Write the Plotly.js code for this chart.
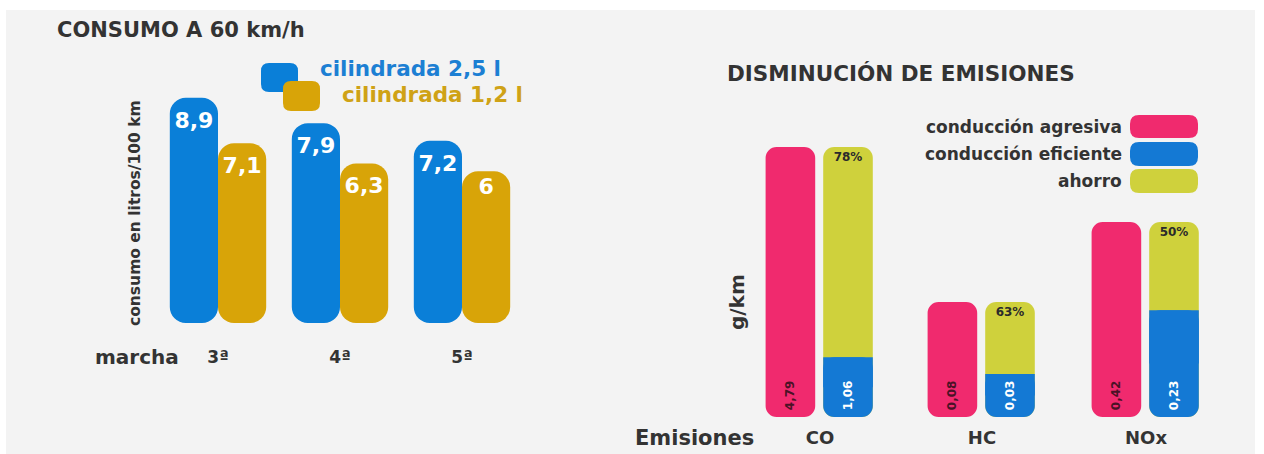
<!DOCTYPE html>
<html>
<head>
<meta charset="utf-8">
<script src="https://cdn.plot.ly/plotly-3.0.1.min.js"></script>
<style>html,body{margin:0;padding:0;background:#fff;}#chart{width:1264px;height:454px;}</style>
</head>
<body>
<div id="chart"></div>
<script>
// ---- data ----
const marchas = ['3ª', '4ª', '5ª'];
const consumo25 = [8.9, 7.9, 7.2];   // cilindrada 2,5 l (litros/100 km)
const consumo12 = [7.1, 6.3, 6];     // cilindrada 1,2 l
const emisiones = ['CO', 'HC', 'NOx'];
const agresiva = [4.79, 0.08, 0.42];  // g/km conducción agresiva
const eficiente = [1.06, 0.03, 0.23]; // g/km conducción eficiente
const ahorroPct = [78, 63, 50];       // % ahorro

// ---- helpers ----
const W = 1264, H = 454;
const px = x => x / W, py = y => 1 - y / H;
const fmt = v => String(v).replace('.', ',');
const FONT = 'DejaVu Sans, Verdana, sans-serif';
const DARK = '#333333';
const C_BLUE = '#0a7fd8', C_GOLD = '#d8a408';
const C_PINK = '#f02a6e', C_BLUE2 = '#1479d4', C_YEL = '#cfd13c';

function rr(x0, y0, x1, y1, r) {
  const P = (x, y) => px(x) + ',' + py(y);
  return 'M' + P(x0 + r, y0) + ' L' + P(x1 - r, y0) + ' Q' + P(x1, y0) + ' ' + P(x1, y0 + r) +
    ' L' + P(x1, y1 - r) + ' Q' + P(x1, y1) + ' ' + P(x1 - r, y1) +
    ' L' + P(x0 + r, y1) + ' Q' + P(x0, y1) + ' ' + P(x0, y1 - r) +
    ' L' + P(x0, y0 + r) + ' Q' + P(x0, y0) + ' ' + P(x0 + r, y0) + ' Z';
}

const traces = [];

// ---- left chart: consumo ----
function consumoBars(vals, color, group) {
  traces.push({
    type: 'bar', x: marchas, y: vals, base: vals.map(() => 0), offsetgroup: group,
    marker: {color: color, cornerradius: 16}, xaxis: 'x', yaxis: 'y',
    text: vals.map(fmt), textposition: 'inside', insidetextanchor: 'end',
    textfont: {family: FONT, size: 22, color: '#ffffff', weight: 700},
    constraintext: 'none', hoverinfo: 'skip', showlegend: false
  });
}
consumoBars(consumo25, C_BLUE, 'a');
consumoBars(consumo12, C_GOLD, 'b');

// ---- right chart: emisiones (one subplot per pollutant, each with own scale) ----
const BW = 0.31, OFF_A = -0.34, OFF_B = 0.02;
emisiones.forEach((e, i) => {
  const xa = 'x' + (i + 2), ya = 'y' + (i + 2);
  const a = agresiva[i], f = eficiente[i];
  const common = {x: [e], width: [BW], xaxis: xa, yaxis: ya, hoverinfo: 'skip', showlegend: false,
    textposition: 'inside', constraintext: 'none'};
  // ahorro: full column behind (eficiente + ahorro = agresiva)
  traces.push(Object.assign({}, common, {type: 'bar', y: [a], base: [0], offset: [OFF_B],
    marker: {color: C_YEL, cornerradius: 11},
    text: [ahorroPct[i] + '%'], insidetextanchor: 'end', textangle: 0,
    textfont: {family: FONT, size: 12, color: '#2b2b2b', weight: 700}}));
  // agresiva
  traces.push(Object.assign({}, common, {type: 'bar', y: [a], base: [0], offset: [OFF_A],
    marker: {color: C_PINK, cornerradius: 11},
    text: [fmt(a)], insidetextanchor: 'start', textangle: -90,
    textfont: {family: FONT, size: 12, color: '#4a1226', weight: 700}}));
  // eficiente: square cap for the upper part
  traces.push(Object.assign({}, common, {type: 'bar', y: [f / 2], base: [f / 2], offset: [OFF_B],
    marker: {color: C_BLUE2, cornerradius: 0}}));
  // eficiente: rounded column with label
  traces.push(Object.assign({}, common, {type: 'bar', y: [f], base: [0], offset: [OFF_B],
    marker: {color: C_BLUE2, cornerradius: 11},
    text: [fmt(f)], insidetextanchor: 'start', textangle: -90,
    textfont: {family: FONT, size: 12, color: '#ffffff', weight: 700}}));
});

// ---- layout ----
const hiddenY = (dom, rng, anchor) => ({domain: dom, range: rng, showgrid: false, zeroline: false,
  showticklabels: false, showline: false, fixedrange: true, anchor: anchor});
const catX = (dom, anchor, standoff, size) => ({domain: dom, anchor: anchor, type: 'category',
  showgrid: false, zeroline: false, showline: false, ticks: '', ticklabelstandoff: standoff,
  tickfont: {family: FONT, size: size, color: DARK, weight: 700}, fixedrange: true});

const rBot = 417, rTop = 140;
const rDom = [py(rBot), py(rTop)];
const topPx = [147, 302, 222];
const rRange = i => [0, agresiva[i] * (rBot - rTop) / (rBot - topPx[i])];
const layout = {
  width: W, height: H, margin: {l: 0, r: 0, t: 0, b: 0},
  paper_bgcolor: '#ffffff', plot_bgcolor: 'rgba(0,0,0,0)',
  font: {family: FONT, color: DARK},
  barmode: 'group', bargap: 0.21, bargroupgap: 0,
  hovermode: false, showlegend: false,
  xaxis: catX([px(157), px(523)], 'y', 22, 17),
  yaxis: hiddenY([py(323), py(70)], [0, 10], 'x'),
  xaxis2: Object.assign(catX([px(740), px(900)], 'y2', 8, 18), {range: [-0.5, 0.5]}),
  xaxis3: Object.assign(catX([px(902), px(1062)], 'y3', 8, 18), {range: [-0.5, 0.5]}),
  xaxis4: Object.assign(catX([px(1066), px(1226)], 'y4', 8, 18), {range: [-0.5, 0.5]}),
  yaxis2: hiddenY(rDom, rRange(0), 'x2'),
  yaxis3: hiddenY(rDom, rRange(1), 'x3'),
  yaxis4: hiddenY(rDom, rRange(2), 'x4'),
  shapes: [
    {type: 'rect', xref: 'paper', yref: 'paper', x0: px(6), x1: px(1255), y0: 0, y1: py(10),
      fillcolor: '#f3f3f3', line: {width: 0}, layer: 'below'},
    {type: 'path', xref: 'paper', yref: 'paper', path: rr(261, 63, 298, 92, 8), fillcolor: C_BLUE, line: {width: 0}},
    {type: 'path', xref: 'paper', yref: 'paper', path: rr(283, 81, 320, 111, 8), fillcolor: C_GOLD, line: {width: 0}},
    {type: 'path', xref: 'paper', yref: 'paper', path: rr(1130, 115, 1198, 138, 9), fillcolor: C_PINK, line: {width: 0}},
    {type: 'path', xref: 'paper', yref: 'paper', path: rr(1130, 142, 1198, 166, 9), fillcolor: C_BLUE2, line: {width: 0}},
    {type: 'path', xref: 'paper', yref: 'paper', path: rr(1130, 169, 1198, 193, 9), fillcolor: C_YEL, line: {width: 0}}
  ],
  annotations: [
    {text: 'CONSUMO A 60 km/h', x: px(55), y: py(30), xanchor: 'left', fs: 21},
    {text: 'cilindrada 2,5 l', x: px(318), y: py(69), xanchor: 'left', fs: 21.5, color: '#1c7fd3'},
    {text: 'cilindrada 1,2 l', x: px(340), y: py(95), xanchor: 'left', fs: 21.5, color: '#cfa216'},
    {text: 'consumo en litros/100 km', x: px(135), y: py(213), xanchor: 'center', fs: 15.5, angle: -90},
    {text: 'marcha', x: px(137), y: py(357), xanchor: 'center', fs: 20},
    {text: 'DISMINUCIÓN DE EMISIONES', x: px(725), y: py(74), xanchor: 'left', fs: 21.5},
    {text: 'conducción agresiva', x: px(1124), y: py(127), xanchor: 'right', fs: 17},
    {text: 'conducción eficiente', x: px(1124), y: py(154), xanchor: 'right', fs: 17},
    {text: 'ahorro', x: px(1124), y: py(181), xanchor: 'right', fs: 17},
    {text: 'Emisiones', x: px(694), y: py(438), xanchor: 'center', fs: 21},
    {text: 'g/km', x: px(737), y: py(302), xanchor: 'center', fs: 20, angle: -90}
  ].map(a => ({text: a.text, x: a.x, y: a.y, xref: 'paper', yref: 'paper', xanchor: a.xanchor,
    yanchor: 'middle', showarrow: false, textangle: a.angle || 0,
    font: {family: FONT, size: a.fs, color: a.color || DARK, weight: 700}}))
};

Plotly.newPlot('chart', traces, layout, {staticPlot: true, displayModeBar: false});
</script>
</body>
</html>
